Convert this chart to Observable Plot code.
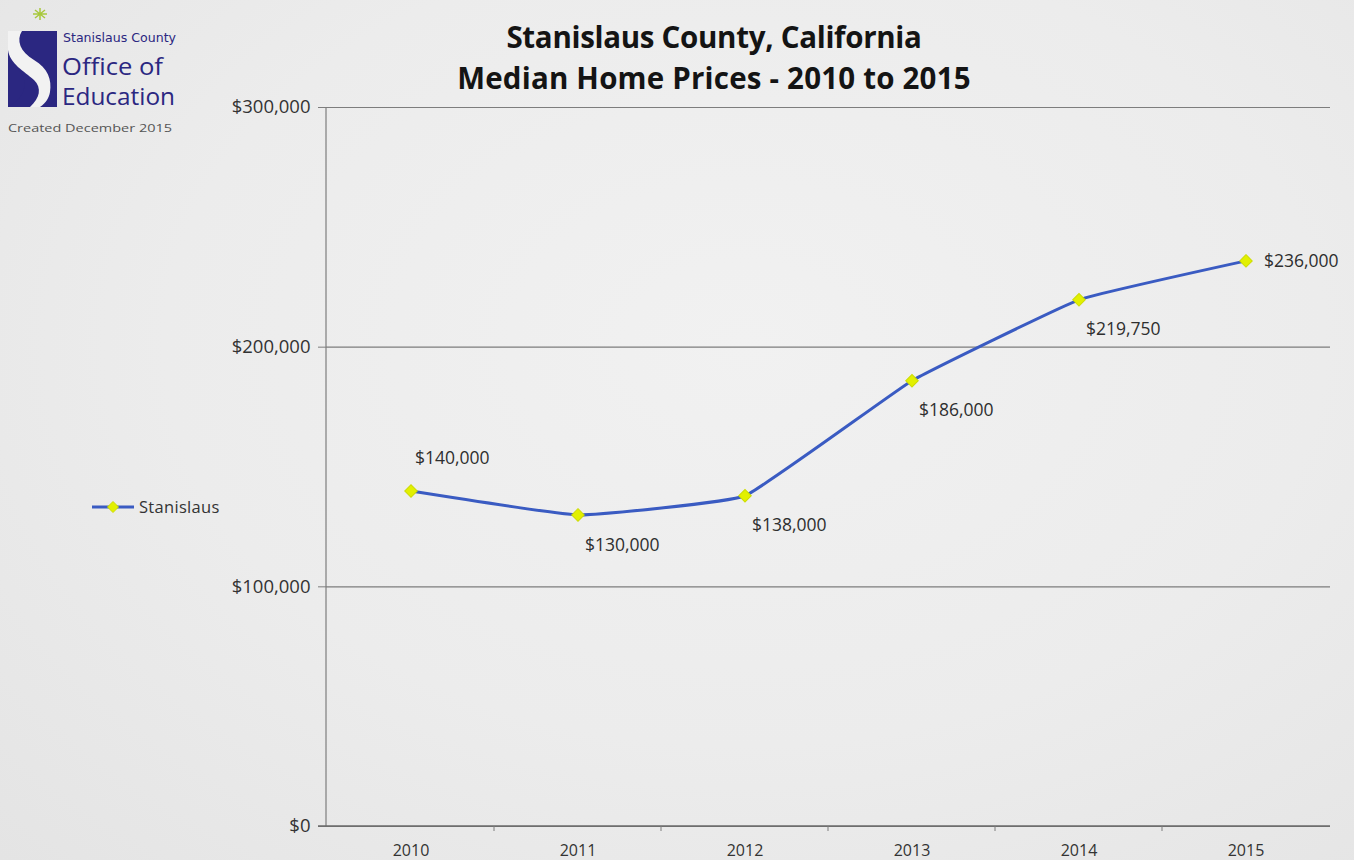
<!DOCTYPE html>
<html><head><meta charset="utf-8">
<script src="https://cdn.jsdelivr.net/npm/d3@7"></script>
<script src="https://cdn.jsdelivr.net/npm/@observablehq/plot@0.6"></script>
<style>
body{margin:0;background:#ebebeb;}
#wrap{position:relative;width:1354px;height:860px;overflow:hidden;
  background: radial-gradient(ellipse at 55% 40%, #f1f1f1 0%, #ececec 55%, #e4e4e4 100%);
  font-family:"Open Sans",sans-serif;}
#chart{position:absolute;left:0;top:0;}
#title{position:absolute;left:364px;width:700px;top:16px;text-align:center;font-family:"Open Sans",sans-serif;
  font-weight:700;font-size:29.5px;line-height:41px;color:#141414;z-index:2;letter-spacing:-0.3px;}
#title .l2{letter-spacing:0.2px;}
#logo{position:absolute;left:0;top:0;z-index:2;}
#legend{position:absolute;left:90px;top:495px;display:flex;align-items:center;z-index:2;font-size:16.5px;color:#333;}
#legend span{margin-left:3px;letter-spacing:0.3px;}
</style></head>
<body><div id="wrap">
<div id="logo">
<svg width="200" height="140">
  <g><path d="M33,14 L47,14 M40,8 L40,20 M35,10 L45,18 M45,10 L35,18" stroke="#a8c83c" stroke-width="1.5"/></g>
  <rect x="8" y="31" width="49" height="76" fill="#2b2781"/>
  <path d="M8,31 L22,31 C16,40 20,52 34,60 C48,68 52,80 50,92 C49,98 46,103 40,107 L30,107 C40,98 42,88 34,80 C24,71 10,64 8,50 Z" fill="#f2f2f2"/>
  <path d="M8,60 C16,66 22,72 24,80 C26,92 20,100 8,107 Z" fill="#2b2781"/>
  <path d="M50,105 L57,97 L57,105 Z" fill="#2b2781"/>
  <text x="63" y="42" font-family="'DejaVu Sans Condensed',sans-serif" font-size="11.5" fill="#2b2781" textLength="113" lengthAdjust="spacingAndGlyphs">Stanislaus County</text>
  <text x="62" y="75" font-family="'Open Sans',sans-serif" font-size="24" fill="#2b2781" textLength="101" lengthAdjust="spacingAndGlyphs">Office of</text>
  <text x="62" y="105" font-family="'Open Sans',sans-serif" font-size="24" fill="#2b2781" textLength="113" lengthAdjust="spacingAndGlyphs">Education</text>
  <text x="8" y="132" font-family="'Open Sans',sans-serif" font-size="10" fill="#555" textLength="164" lengthAdjust="spacingAndGlyphs">Created December 2015</text>
</svg>
</div>
<div id="title">Stanislaus County, California<br><span class="l2">Median Home Prices - 2010 to 2015</span></div>
<div id="legend"><svg width="46" height="14"><line x1="2" y1="7" x2="44" y2="7" stroke="#3a5bc2" stroke-width="3"/><path d="M23,1.5 L28.5,7 L23,12.5 L17.5,7 Z" fill="#e2f000" stroke="#cddc00"/></svg><span id="legendText"></span></div>
<div id="chart"></div>
</div>
<script>
const years = ["2010","2011","2012","2013","2014","2015"];
const prices = [140000, 130000, 138000, 186000, 219750, 236000];
const yTicks = [0, 100000, 200000, 300000];
const labelPlacement = ["above","below","below","below","below","right"];
const seriesName = "Stanislaus";

document.getElementById("legendText").textContent = seriesName;

const data = years.map((year, i) => ({year, price: prices[i], place: labelPlacement[i]}));
const fmt = d3.format("$,");

const labelText = (place, opts) => Plot.text(data.filter(d => d.place === place), {
  x: "year", y: "price", text: d => fmt(d.price), textAnchor: "start", fill: "#2e2e2e", fontSize: 17.5, ...opts
});

const chart = Plot.plot({
  width: 1354,
  height: 860,
  marginLeft: 326,
  marginRight: 24,
  marginTop: 107,
  marginBottom: 34,
  style: {fontFamily: "'Open Sans', sans-serif", fontSize: "17px", color: "#333", background: "transparent", overflow: "visible"},
  x: {type: "band", domain: years, padding: 0, label: null},
  y: {domain: [0, 300000], label: null},
  marks: [
    Plot.ruleY(yTicks, {y: d => d, stroke: "#7d7d7d", strokeWidth: 1.2}),
    Plot.axisY({ticks: yTicks, tickFormat: fmt, tickSize: 8, tickPadding: 8, stroke: "#7d7d7d", fill: "#333", fontSize: 18.5}),
    Plot.axisX({tickSize: 0, tickPadding: 18, fill: "#333", fontSize: 16}),
    Plot.line(data, {x: "year", y: "price", stroke: "#3a5bc2", strokeWidth: 3, curve: "cardinal", tension: 0.7}),
    Plot.dot(data, {x: "year", y: "price", symbol: "square", rotate: 45, r: 5, fill: "#e2f000", stroke: "#cddc00", strokeWidth: 1}),
    labelText("above", {dx: 4, dy: -33}),
    labelText("below", {dx: 7, dy: 30}),
    labelText("right", {dx: 18, dy: 1})
  ]
});

document.getElementById("chart").appendChild(chart);

// axis line and category boundary ticks, positioned with Plot's own scales
const sx = chart.scale("x"), sy = chart.scale("y");
const svg = d3.select(chart);
const x0 = sx.range[0];
svg.append("line").attr("x1", x0).attr("x2", x0)
  .attr("y1", sy.apply(0)).attr("y2", sy.apply(300000))
  .attr("stroke", "#7d7d7d").attr("stroke-width", 1.2);
svg.append("line").attr("x1", x0 - 8).attr("x2", sx.range[1])
  .attr("y1", sy.apply(0)).attr("y2", sy.apply(0))
  .attr("stroke", "#6a6a6a").attr("stroke-width", 1.5);
years.slice(1).forEach(yr => {
  const xp = sx.apply(yr);
  svg.append("line").attr("x1", xp).attr("x2", xp)
    .attr("y1", sy.apply(0)).attr("y2", sy.apply(0) + 5)
    .attr("stroke", "#7d7d7d").attr("stroke-width", 1);
});
</script>
</body></html>
